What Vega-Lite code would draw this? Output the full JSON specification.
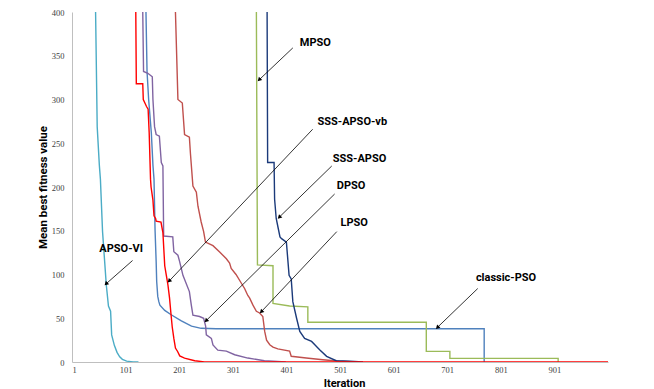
{
  "$schema": "https://vega.github.io/schema/vega-lite/v6.json",
  "width": 536,
  "height": 350,
  "autosize": {"type": "none"},
  "padding": {"left": 72, "top": 12, "right": 46, "bottom": 27},
  "background": "white",
  "config": {"view": {"stroke": null}},
  "datasets": {
    "curves": [
      {"series": "APSO-VI", "i": 1, "iter": 45, "value": 400},
      {"series": "APSO-VI", "i": 2, "iter": 48, "value": 269},
      {"series": "APSO-VI", "i": 3, "iter": 52, "value": 225},
      {"series": "APSO-VI", "i": 4, "iter": 54, "value": 209},
      {"series": "APSO-VI", "i": 5, "iter": 58, "value": 149},
      {"series": "APSO-VI", "i": 6, "iter": 65, "value": 88},
      {"series": "APSO-VI", "i": 7, "iter": 69, "value": 64},
      {"series": "APSO-VI", "i": 8, "iter": 73, "value": 58},
      {"series": "APSO-VI", "i": 9, "iter": 75, "value": 31},
      {"series": "APSO-VI", "i": 10, "iter": 80, "value": 19},
      {"series": "APSO-VI", "i": 11, "iter": 85, "value": 11},
      {"series": "APSO-VI", "i": 12, "iter": 90, "value": 6},
      {"series": "APSO-VI", "i": 13, "iter": 95, "value": 3},
      {"series": "APSO-VI", "i": 14, "iter": 103, "value": 1},
      {"series": "APSO-VI", "i": 15, "iter": 115, "value": 0.2},
      {"series": "APSO-VI", "i": 16, "iter": 125, "value": 0},

      {"series": "classic-PSO", "i": 1, "iter": 139, "value": 400},
      {"series": "classic-PSO", "i": 2, "iter": 141, "value": 332},
      {"series": "classic-PSO", "i": 3, "iter": 144, "value": 300},
      {"series": "classic-PSO", "i": 4, "iter": 149, "value": 262},
      {"series": "classic-PSO", "i": 5, "iter": 152, "value": 225},
      {"series": "classic-PSO", "i": 6, "iter": 154, "value": 209},
      {"series": "classic-PSO", "i": 7, "iter": 156, "value": 150},
      {"series": "classic-PSO", "i": 8, "iter": 158, "value": 115},
      {"series": "classic-PSO", "i": 9, "iter": 159, "value": 92},
      {"series": "classic-PSO", "i": 10, "iter": 161, "value": 75},
      {"series": "classic-PSO", "i": 11, "iter": 163, "value": 69},
      {"series": "classic-PSO", "i": 12, "iter": 165, "value": 65},
      {"series": "classic-PSO", "i": 13, "iter": 174, "value": 59},
      {"series": "classic-PSO", "i": 14, "iter": 186, "value": 54},
      {"series": "classic-PSO", "i": 15, "iter": 205, "value": 47},
      {"series": "classic-PSO", "i": 16, "iter": 224, "value": 41},
      {"series": "classic-PSO", "i": 17, "iter": 242, "value": 38.5},
      {"series": "classic-PSO", "i": 18, "iter": 270, "value": 38},
      {"series": "classic-PSO", "i": 19, "iter": 770, "value": 38},
      {"series": "classic-PSO", "i": 20, "iter": 770, "value": 0},

      {"series": "MPSO", "i": 1, "iter": 345, "value": 400},
      {"series": "MPSO", "i": 2, "iter": 346, "value": 253},
      {"series": "MPSO", "i": 3, "iter": 347, "value": 111},
      {"series": "MPSO", "i": 4, "iter": 376, "value": 110},
      {"series": "MPSO", "i": 5, "iter": 376, "value": 67},
      {"series": "MPSO", "i": 6, "iter": 407, "value": 64},
      {"series": "MPSO", "i": 7, "iter": 441, "value": 63},
      {"series": "MPSO", "i": 8, "iter": 441, "value": 45.5},
      {"series": "MPSO", "i": 9, "iter": 662, "value": 45.5},
      {"series": "MPSO", "i": 10, "iter": 662, "value": 12.2},
      {"series": "MPSO", "i": 11, "iter": 706, "value": 12.2},
      {"series": "MPSO", "i": 12, "iter": 706, "value": 4.2},
      {"series": "MPSO", "i": 13, "iter": 908, "value": 4.2},
      {"series": "MPSO", "i": 14, "iter": 908, "value": 0},

      {"series": "LPSO", "i": 1, "iter": 194, "value": 400},
      {"series": "LPSO", "i": 2, "iter": 198.6, "value": 300},
      {"series": "LPSO", "i": 3, "iter": 206.8, "value": 296},
      {"series": "LPSO", "i": 4, "iter": 211, "value": 260},
      {"series": "LPSO", "i": 5, "iter": 220, "value": 257},
      {"series": "LPSO", "i": 6, "iter": 222, "value": 238},
      {"series": "LPSO", "i": 7, "iter": 226.6, "value": 201},
      {"series": "LPSO", "i": 8, "iter": 233, "value": 194},
      {"series": "LPSO", "i": 9, "iter": 236, "value": 178},
      {"series": "LPSO", "i": 10, "iter": 242, "value": 160},
      {"series": "LPSO", "i": 11, "iter": 246.6, "value": 149},
      {"series": "LPSO", "i": 12, "iter": 250, "value": 137},
      {"series": "LPSO", "i": 13, "iter": 264, "value": 133},
      {"series": "LPSO", "i": 14, "iter": 276, "value": 126},
      {"series": "LPSO", "i": 15, "iter": 289, "value": 118},
      {"series": "LPSO", "i": 16, "iter": 295, "value": 113},
      {"series": "LPSO", "i": 17, "iter": 298, "value": 107},
      {"series": "LPSO", "i": 18, "iter": 307, "value": 100},
      {"series": "LPSO", "i": 19, "iter": 317, "value": 90},
      {"series": "LPSO", "i": 20, "iter": 323, "value": 84},
      {"series": "LPSO", "i": 21, "iter": 329, "value": 76},
      {"series": "LPSO", "i": 22, "iter": 332.5, "value": 73},
      {"series": "LPSO", "i": 23, "iter": 338.6, "value": 65},
      {"series": "LPSO", "i": 24, "iter": 345, "value": 58},
      {"series": "LPSO", "i": 25, "iter": 351, "value": 56},
      {"series": "LPSO", "i": 26, "iter": 357, "value": 52},
      {"series": "LPSO", "i": 27, "iter": 360.5, "value": 35},
      {"series": "LPSO", "i": 28, "iter": 364, "value": 25},
      {"series": "LPSO", "i": 29, "iter": 370, "value": 19.7},
      {"series": "LPSO", "i": 30, "iter": 376, "value": 17},
      {"series": "LPSO", "i": 31, "iter": 385, "value": 15},
      {"series": "LPSO", "i": 32, "iter": 407, "value": 12.5},
      {"series": "LPSO", "i": 33, "iter": 410, "value": 6.5},
      {"series": "LPSO", "i": 34, "iter": 438, "value": 4.5},
      {"series": "LPSO", "i": 35, "iter": 469, "value": 2.6},
      {"series": "LPSO", "i": 36, "iter": 500, "value": 0.8},
      {"series": "LPSO", "i": 37, "iter": 532, "value": 0},

      {"series": "DPSO", "i": 1, "iter": 133, "value": 400},
      {"series": "DPSO", "i": 2, "iter": 134.5, "value": 332},
      {"series": "DPSO", "i": 3, "iter": 142.5, "value": 330},
      {"series": "DPSO", "i": 4, "iter": 150.8, "value": 326},
      {"series": "DPSO", "i": 5, "iter": 152, "value": 300},
      {"series": "DPSO", "i": 6, "iter": 155, "value": 269},
      {"series": "DPSO", "i": 7, "iter": 158, "value": 260},
      {"series": "DPSO", "i": 8, "iter": 164, "value": 258},
      {"series": "DPSO", "i": 9, "iter": 167.6, "value": 228},
      {"series": "DPSO", "i": 10, "iter": 170.6, "value": 224},
      {"series": "DPSO", "i": 11, "iter": 172, "value": 144},
      {"series": "DPSO", "i": 12, "iter": 189, "value": 143},
      {"series": "DPSO", "i": 13, "iter": 191, "value": 126},
      {"series": "DPSO", "i": 14, "iter": 198.6, "value": 122},
      {"series": "DPSO", "i": 15, "iter": 201.7, "value": 115},
      {"series": "DPSO", "i": 16, "iter": 208, "value": 99},
      {"series": "DPSO", "i": 17, "iter": 220, "value": 80.5},
      {"series": "DPSO", "i": 18, "iter": 223.6, "value": 65},
      {"series": "DPSO", "i": 19, "iter": 226.6, "value": 53.6},
      {"series": "DPSO", "i": 20, "iter": 239, "value": 52},
      {"series": "DPSO", "i": 21, "iter": 246.6, "value": 50},
      {"series": "DPSO", "i": 22, "iter": 250.3, "value": 41},
      {"series": "DPSO", "i": 23, "iter": 251.6, "value": 31},
      {"series": "DPSO", "i": 24, "iter": 261, "value": 27},
      {"series": "DPSO", "i": 25, "iter": 264, "value": 19.6},
      {"series": "DPSO", "i": 26, "iter": 273, "value": 13.6},
      {"series": "DPSO", "i": 27, "iter": 289, "value": 12.5},
      {"series": "DPSO", "i": 28, "iter": 304.5, "value": 8.3},
      {"series": "DPSO", "i": 29, "iter": 329, "value": 4.5},
      {"series": "DPSO", "i": 30, "iter": 360, "value": 1.5},
      {"series": "DPSO", "i": 31, "iter": 400, "value": 0},

      {"series": "SSS-APSO", "i": 1, "iter": 365, "value": 400},
      {"series": "SSS-APSO", "i": 2, "iter": 366, "value": 228},
      {"series": "SSS-APSO", "i": 3, "iter": 378, "value": 228},
      {"series": "SSS-APSO", "i": 4, "iter": 379, "value": 186},
      {"series": "SSS-APSO", "i": 5, "iter": 382, "value": 164},
      {"series": "SSS-APSO", "i": 6, "iter": 386, "value": 152},
      {"series": "SSS-APSO", "i": 7, "iter": 389, "value": 143},
      {"series": "SSS-APSO", "i": 8, "iter": 392, "value": 141},
      {"series": "SSS-APSO", "i": 9, "iter": 401, "value": 137},
      {"series": "SSS-APSO", "i": 10, "iter": 406, "value": 99},
      {"series": "SSS-APSO", "i": 11, "iter": 410, "value": 95},
      {"series": "SSS-APSO", "i": 12, "iter": 413, "value": 69},
      {"series": "SSS-APSO", "i": 13, "iter": 420, "value": 50},
      {"series": "SSS-APSO", "i": 14, "iter": 426, "value": 35},
      {"series": "SSS-APSO", "i": 15, "iter": 435, "value": 27},
      {"series": "SSS-APSO", "i": 16, "iter": 448, "value": 23.5},
      {"series": "SSS-APSO", "i": 17, "iter": 454, "value": 19.7},
      {"series": "SSS-APSO", "i": 18, "iter": 463, "value": 14},
      {"series": "SSS-APSO", "i": 19, "iter": 476, "value": 6.5},
      {"series": "SSS-APSO", "i": 20, "iter": 494, "value": 1.5},
      {"series": "SSS-APSO", "i": 21, "iter": 519, "value": 0.8},
      {"series": "SSS-APSO", "i": 22, "iter": 544, "value": 0},

      {"series": "SSS-APSO-vb", "i": 1, "iter": 120, "value": 400},
      {"series": "SSS-APSO-vb", "i": 2, "iter": 121, "value": 318},
      {"series": "SSS-APSO-vb", "i": 3, "iter": 133, "value": 318},
      {"series": "SSS-APSO-vb", "i": 4, "iter": 134, "value": 300},
      {"series": "SSS-APSO-vb", "i": 5, "iter": 137, "value": 296},
      {"series": "SSS-APSO-vb", "i": 6, "iter": 140, "value": 292},
      {"series": "SSS-APSO-vb", "i": 7, "iter": 143, "value": 289},
      {"series": "SSS-APSO-vb", "i": 8, "iter": 145, "value": 262},
      {"series": "SSS-APSO-vb", "i": 9, "iter": 147.5, "value": 209},
      {"series": "SSS-APSO-vb", "i": 10, "iter": 148.5, "value": 200},
      {"series": "SSS-APSO-vb", "i": 11, "iter": 152, "value": 185},
      {"series": "SSS-APSO-vb", "i": 12, "iter": 154, "value": 167},
      {"series": "SSS-APSO-vb", "i": 13, "iter": 157, "value": 164},
      {"series": "SSS-APSO-vb", "i": 14, "iter": 158, "value": 161},
      {"series": "SSS-APSO-vb", "i": 15, "iter": 167, "value": 160},
      {"series": "SSS-APSO-vb", "i": 16, "iter": 170.6, "value": 148},
      {"series": "SSS-APSO-vb", "i": 17, "iter": 174, "value": 110},
      {"series": "SSS-APSO-vb", "i": 18, "iter": 177, "value": 99},
      {"series": "SSS-APSO-vb", "i": 19, "iter": 180, "value": 88},
      {"series": "SSS-APSO-vb", "i": 20, "iter": 183, "value": 73},
      {"series": "SSS-APSO-vb", "i": 21, "iter": 185.5, "value": 56},
      {"series": "SSS-APSO-vb", "i": 22, "iter": 188, "value": 40},
      {"series": "SSS-APSO-vb", "i": 23, "iter": 191, "value": 27},
      {"series": "SSS-APSO-vb", "i": 24, "iter": 194, "value": 16},
      {"series": "SSS-APSO-vb", "i": 25, "iter": 198, "value": 12},
      {"series": "SSS-APSO-vb", "i": 26, "iter": 202, "value": 7},
      {"series": "SSS-APSO-vb", "i": 27, "iter": 211, "value": 4.5},
      {"series": "SSS-APSO-vb", "i": 28, "iter": 230, "value": 1.5},
      {"series": "SSS-APSO-vb", "i": 29, "iter": 248, "value": 0},
      {"series": "SSS-APSO-vb", "i": 30, "iter": 1001, "value": 0}
    ],
    "notes": [
      {"label": "APSO-VI", "lx": 52, "ly": 129.5, "sx": 114, "sy": 116, "ex": 65.4, "ey": 89.8},
      {"label": "MPSO", "lx": 426, "ly": 365, "sx": 413, "sy": 359, "ex": 351, "ey": 323},
      {"label": "SSS-APSO-vb", "lx": 459, "ly": 274, "sx": 450, "sy": 266, "ex": 183, "ey": 93},
      {"label": "SSS-APSO", "lx": 487.5, "ly": 232, "sx": 485.6, "sy": 224, "ex": 388.5, "ey": 166},
      {"label": "DPSO", "lx": 495, "ly": 201, "sx": 491, "sy": 192, "ex": 252, "ey": 47.7},
      {"label": "LPSO", "lx": 502, "ly": 159, "sx": 495, "sy": 149, "ex": 355, "ey": 58},
      {"label": "classic-PSO", "lx": 754.5, "ly": 95.5, "sx": 758, "sy": 84, "ex": 683.5, "ey": 40}
    ]
  },
  "layer": [
    {
      "data": {"name": "curves"},
      "mark": {"type": "line", "clip": true, "interpolate": "linear"},
      "encoding": {
        "x": {
          "field": "iter", "type": "quantitative",
          "scale": {"domain": [1, 1001], "nice": false, "zero": false},
          "axis": {
            "title": "Iteration",
            "values": [1, 101, 201, 301, 401, 501, 601, 701, 801, 901],
            "grid": false, "ticks": false, "labelPadding": 3,
            "domainColor": "#bfbfbf",
            "labelFont": "Liberation Serif", "labelFontSize": 8.5, "labelColor": "#404040",
            "titleFont": "Roboto", "titleFontSize": 11, "titleFontWeight": "bold", "titleColor": "#000000",
            "titleY": 24, "titleBaseline": "alphabetic", "titleX": 272
          }
        },
        "y": {
          "field": "value", "type": "quantitative",
          "scale": {"domain": [0, 400], "nice": false},
          "axis": {
            "title": "Mean best fitness value",
            "values": [0, 50, 100, 150, 200, 250, 300, 350, 400],
            "grid": false, "ticks": false, "labelPadding": 8,
            "domainColor": "#bfbfbf",
            "labelFont": "Liberation Serif", "labelFontSize": 8.5, "labelColor": "#404040",
            "titleFont": "Roboto", "titleFontSize": 11.5, "titleFontWeight": "bold", "titleColor": "#000000",
            "titleX": -26, "titleY": 175, "titleAngle": -90, "titleAlign": "center", "titleBaseline": "alphabetic"
          }
        },
        "order": {"field": "i", "type": "quantitative"},
        "color": {
          "field": "series", "type": "nominal", "legend": null,
          "scale": {
            "domain": ["APSO-VI", "classic-PSO", "MPSO", "LPSO", "DPSO", "SSS-APSO", "SSS-APSO-vb"],
            "range": ["#4BACC6", "#4F81BD", "#9BBB59", "#C0504D", "#8064A2", "#1B3A7A", "#FF0000"]
          }
        },
        "strokeWidth": {
          "field": "series", "type": "nominal", "legend": null,
          "scale": {
            "domain": ["APSO-VI", "classic-PSO", "MPSO", "LPSO", "DPSO", "SSS-APSO", "SSS-APSO-vb"],
            "range": [1.4, 1.4, 1.4, 1.4, 1.4, 2.7, 3]
          }
        }
      }
    },
    {
      "data": {"name": "notes"},
      "mark": {"type": "rule", "color": "#000000", "strokeWidth": 0.8},
      "encoding": {
        "x": {"field": "sx", "type": "quantitative"},
        "y": {"field": "sy", "type": "quantitative"},
        "x2": {"field": "ex"},
        "y2": {"field": "ey"}
      }
    },
    {
      "data": {"name": "notes"},
      "mark": {"type": "point", "shape": "triangle", "filled": true, "color": "#000000", "size": 22, "angle": 225, "opacity": 1},
      "encoding": {
        "x": {"field": "ex", "type": "quantitative"},
        "y": {"field": "ey", "type": "quantitative"}
      }
    },
    {
      "data": {"name": "notes"},
      "mark": {"type": "text", "align": "left", "baseline": "middle", "font": "Roboto", "fontSize": 11, "fontWeight": "bold", "color": "#000000"},
      "encoding": {
        "x": {"field": "lx", "type": "quantitative"},
        "y": {"field": "ly", "type": "quantitative"},
        "text": {"field": "label"}
      }
    }
  ]
}
